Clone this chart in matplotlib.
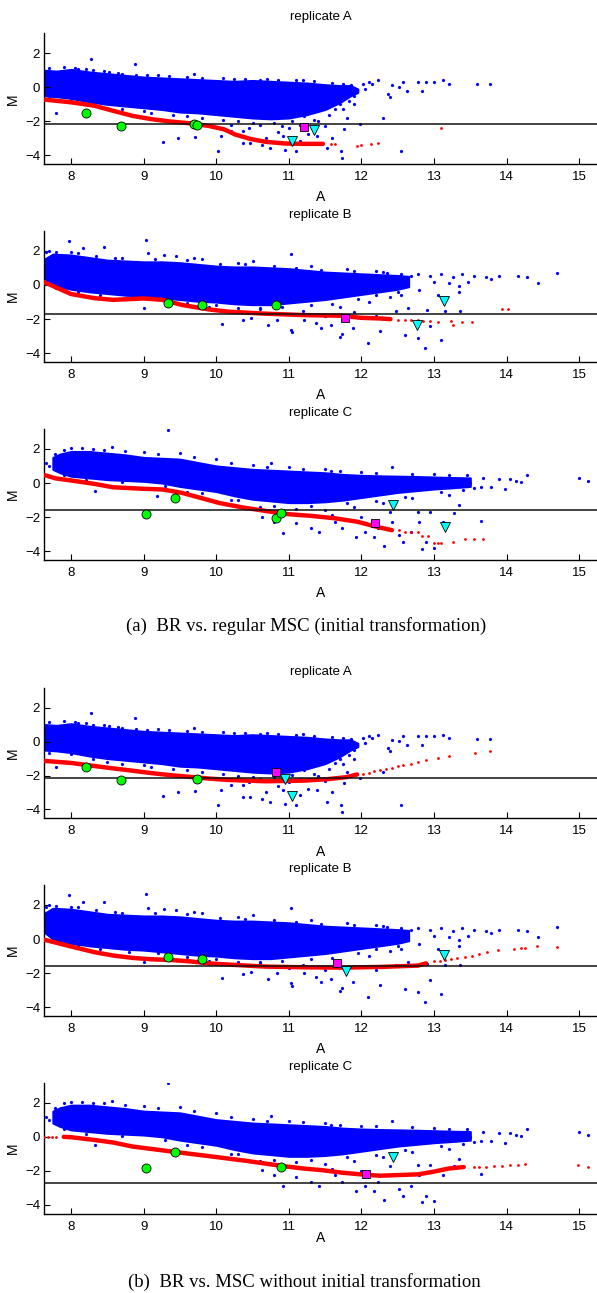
import matplotlib
matplotlib.use("Agg")
import matplotlib.pyplot as plt

plt.rcParams['font.family'] = ['Liberation Sans', 'DejaVu Sans']

# ---------------- data ----------------
# Blue MA cloud, shared by the (a) and (b) versions of each replicate.
# Dense core: envelope (A, upper M, lower M); sparse points listed individually.
coreA_A = [7.63, 7.8, 8.0, 8.25, 8.5, 8.75, 9.0, 9.25, 9.5, 9.75, 10.0, 10.25, 10.5, 10.75, 11.0, 11.25, 11.5, 11.7, 11.85, 11.95]
coreA_hi = [1.0, 0.95, 1.05, 0.9, 0.8, 0.7, 0.6, 0.55, 0.5, 0.45, 0.4, 0.35, 0.4, 0.35, 0.3, 0.25, 0.15, 0.1, 0.1, -0.1]
coreA_lo = [-0.5, -0.55, -0.65, -0.85, -1.0, -1.1, -1.2, -1.3, -1.45, -1.5, -1.6, -1.7, -1.8, -1.85, -1.8, -1.6, -1.3, -0.9, -0.5, -0.3]
ptsA_A = [8.27, 8.88, 8.53, 7.8, 9.27, 9.48, 9.70, 9.71, 10.02, 10.06, 10.21, 10.37, 10.47, 10.37,
          10.63, 10.68, 10.74, 10.92, 10.95, 11.1, 11.16, 11.05, 11.21, 11.31, 11.26, 11.39, 11.47,
          11.52, 11.6, 11.63, 11.72, 11.73, 11.76, 11.8, 11.83, 11.94, 11.98, 12.02, 12.15, 12.23,
          12.3, 12.36, 12.39, 12.42, 12.52, 12.55, 12.57, 12.63, 12.78, 12.84, 12.89, 13.0, 13.13,
          13.2, 13.59, 13.77, 8.1, 8.3, 8.7, 9.2, 9.6, 10.1, 10.4, 10.7, 11.2, 9.1, 9.6, 10.1, 10.5,
          10.9, 11.4, 11.7, 8.5, 11.85, 12.05, 12.1, 11.9,
          7.7, 7.9, 8.05, 8.2, 8.45, 8.65, 8.9, 9.05, 9.35, 9.8, 10.25, 10.6, 10.85, 11.1, 11.35, 11.6, 11.75,
          7.7, 8.0, 8.3, 8.7, 9.0, 9.4, 9.8, 10.3, 10.6, 10.8, 11.0, 11.15, 11.35, 11.55, 11.75, 11.9,
          10.2, 10.45, 10.85, 11.5]
ptsA_M = [1.66, 1.36, 0.91, -1.48, -3.21, -2.97, 0.81, -2.93, -3.76, -2.87, -2.57, -3.27, -3.27, -2.57,
          -3.36, -2.97, -3.56, -2.87, -3.66, -3.76, -3.17, -1.97, -1.68, -1.38, -2.77, -2.87, -4.56,
          -3.56, -2.97, -1.28, -3.76, -4.16, -2.47, -1.78, -0.78, -0.19, -2.17, 0.21, 0.21, 0.41,
          -1.78, -0.38, -0.58, 0.11, 0.01, -3.76, 0.31, -0.19, 0.31, -0.19, 0.31, 0.31, 0.41,
          0.21, 0.17, 0.17, 1.1, 1.0, 0.8, 0.75, 0.6, 0.55, 0.5, 0.5, 0.45, -1.5, -1.7, -1.9, -2.1,
          -2.3, -2.0, -1.0, -1.2, 0.15, -0.1, 0.3, -1.0,
          1.15, 1.2, 1.15, 1.1, 0.95, 0.85, 0.75, 0.7, 0.65, 0.55, 0.5, 0.45, 0.45, 0.4, 0.35, 0.25, 0.2,
          -0.65, -0.75, -1.0, -1.3, -1.4, -1.6, -1.8, -2.0, -2.2, -2.1, -2.4, -2.2, -1.9, -1.6, -1.3, -0.5,
          -2.2, -2.4, -2.6, -2.3]

coreB_A = [7.63, 7.75, 8.0, 8.25, 8.5, 8.75, 9.0, 9.25, 9.5, 9.75, 10.0, 10.25, 10.5, 10.75, 11.0, 11.25, 11.5, 11.75, 12.0, 12.25, 12.5, 12.65]
coreB_hi = [1.5, 1.8, 1.75, 1.6, 1.45, 1.4, 1.35, 1.35, 1.3, 1.2, 1.1, 1.05, 1.05, 1.0, 0.95, 0.85, 0.75, 0.7, 0.65, 0.6, 0.55, 0.5]
coreB_lo = [0.4, 0.0, -0.25, -0.4, -0.5, -0.6, -0.65, -0.75, -0.85, -0.95, -1.0, -1.1, -1.15, -1.15, -1.05, -0.95, -0.85, -0.7, -0.55, -0.4, -0.25, -0.1]
ptsB_A = [7.97, 8.16, 8.45, 9.03, 9.06, 9.28, 9.45, 9.7, 11.03, 10.5, 9.01, 10.08, 10.37, 10.48,
          10.71, 10.84, 11.03, 11.05, 11.21, 11.37, 11.45, 11.58, 11.71, 11.73, 11.89, 12.09, 12.26,
          12.47, 12.6, 12.64, 12.78, 12.88, 12.91, 12.94, 13.1, 13.15, 13.36, 13.34, 13.35, 12.68,
          12.78, 12.94, 13.1, 13.26, 13.39, 13.47, 13.55, 13.71, 13.78, 13.89, 14.15, 14.28, 14.43,
          14.69, 7.7, 8.0, 8.6, 9.8, 10.3, 11.3, 11.8, 12.2, 9.3, 9.9, 10.6, 11.2, 11.7, 12.1, 12.4,
          12.3, 12.55, 12.8, 13.0, 13.2, 13.05,
          7.65, 7.8, 8.1, 8.35, 8.7, 9.15, 9.6, 10.05, 10.4, 10.8, 11.1, 11.45, 11.9, 12.35, 12.55,
          7.8, 8.1, 8.4, 8.8, 9.2, 9.6, 10.0, 10.3, 10.6, 10.9, 11.3, 11.6, 11.95, 12.2, 12.5,
          11.0, 11.5, 11.9, 12.2]
ptsB_M = [2.57, 2.18, 2.2, 2.63, 1.84, 1.74, 1.7, 1.6, 1.8, 1.4, -1.33, -2.26, -2.04, -1.92,
          -2.36, -2.02, -2.61, -2.77, -2.02, -2.22, -2.51, -2.32, -3.07, -2.87, -2.51, -3.41, -2.71,
          -1.52, -2.91, -1.33, -3.11, -3.7, -1.49, -2.42, -3.21, -1.52, -1.52, -0.44, -0.04, 0.55,
          0.65, 0.55, 0.65, 0.46, 0.65, 0.16, 0.55, 0.46, 0.36, 0.5, 0.55, 0.46, 0.1,
          0.69, 2.0, 1.9, 1.6, 1.5, 1.3, 1.1, 0.95, 0.8, -1.0, -1.3, -1.4, -1.5, -1.3, -1.0, -0.7,
          0.75, -0.6, -0.3, 0.2, 0.1, -0.6,
          1.9, 1.95, 1.85, 1.7, 1.55, 1.5, 1.45, 1.25, 1.2, 1.1, 1.0, 0.9, 0.8, 0.7, 0.65,
          -0.2, -0.4, -0.6, -0.75, -0.85, -1.05, -1.2, -1.35, -1.35, -1.3, -1.15, -1.1, -0.85, -0.6, -0.4,
          -1.7, -1.8, -1.6, -1.8]

coreC_A = [7.75, 7.85, 8.0, 8.25, 8.5, 8.75, 9.0, 9.25, 9.5, 9.75, 10.0, 10.25, 10.5, 10.75, 11.0, 11.25, 11.5, 11.75, 12.0, 12.25, 12.5, 12.75, 13.0, 13.25, 13.5]
coreC_hi = [1.5, 1.7, 1.85, 1.85, 1.75, 1.65, 1.5, 1.45, 1.4, 1.2, 1.0, 0.9, 0.8, 0.75, 0.7, 0.65, 0.6, 0.5, 0.45, 0.42, 0.4, 0.38, 0.35, 0.32, 0.3]
coreC_lo = [0.8, 0.6, 0.4, 0.3, 0.2, 0.15, 0.1, 0.0, -0.2, -0.35, -0.5, -0.75, -0.95, -1.05, -1.15, -1.15, -1.1, -1.0, -0.85, -0.7, -0.55, -0.45, -0.35, -0.28, -0.2]
ptsC_A = [9.33, 8.56, 7.66, 7.78, 7.7, 8.33, 9.19, 10.76, 10.92, 10.63, 10.79, 11.1, 11.31, 11.42,
          11.58, 11.63, 11.73, 11.92, 12.05, 12.18, 12.23, 12.31, 12.42, 12.42, 12.52, 12.57, 12.68,
          12.78, 12.8, 12.84, 12.89, 12.94, 13.0, 13.12, 13.28, 13.34, 13.65, 13.68, 13.78, 13.89,
          13.98, 14.05, 14.13, 14.2, 14.28, 13.65, 15.0, 15.12, 8.0, 8.3, 9.0, 9.5, 10.0, 10.5, 11.0,
          11.5, 12.0, 13.0, 13.45, 9.6, 10.2, 10.6, 11.1, 11.5, 11.9, 12.3, 12.7, 13.2, 13.55, 13.5,
          7.9, 8.15, 8.45, 8.75, 9.2, 9.7, 10.2, 10.7, 11.2, 11.7, 12.2, 12.7, 13.2,
          7.9, 8.2, 8.7, 9.3, 9.8, 10.3, 10.8, 11.3, 11.8, 12.2, 12.6, 13.1, 13.4,
          11.6, 12.0, 12.4]
ptsC_M = [3.13, 2.1, 1.17, 1.7, 1.0, -0.48, -0.74, 1.2, -2.91, -1.97, -2.27, -2.37, -2.67, -2.87,
          0.71, -2.27, -2.67, -3.17, -2.87, -3.17, -2.67, -3.7, -2.27, 0.91, -3.07, -3.46, -2.87,
          -1.68, -2.27, -3.86, -3.46, -1.68, -3.8, -2.27, -1.74, -1.28, -0.23, 0.27, -0.25, 0.21,
          -0.38, 0.21, 0.11, 0.05, 0.47, -2.21, 0.27, 0.11, 2.05, 2.0, 1.8, 1.75, 1.4, 1.05, 0.95,
          0.8, 0.65, 0.5, 0.45, -0.5, -1.0, -1.4, -1.5, -1.6, -1.4, -1.2, -0.9, -0.7, -0.3, 0.0,
          1.95, 2.05, 1.95, 1.85, 1.7, 1.5, 1.15, 0.95, 0.85, 0.7, 0.6, 0.55, 0.45,
          0.45, 0.15, 0.05, -0.2, -0.6, -1.0, -1.35, -1.35, -1.2, -1.05, -0.8, -0.55, -0.4,
          -1.9, -2.0, -1.7]

# Red normalisation curves: dense part and sparse tail, for the six panels
red_dense_A = [
    [7.63, 8.0, 8.32, 8.58, 8.85, 9.11, 9.37, 9.63, 9.9, 10.11, 10.26, 10.47, 10.68, 10.95, 11.2, 11.47],
    [7.63, 7.74, 8.0, 8.32, 8.58, 9.0, 9.26, 9.53, 9.9, 10.16, 10.68, 11.21, 11.73, 11.99, 12.26, 12.4],
    [7.63, 7.79, 8.0, 8.32, 8.58, 9.0, 9.26, 9.53, 9.79, 10.05, 10.37, 10.68, 10.99, 11.31, 11.63, 11.94, 12.21, 12.42],
    [7.63, 8.0, 8.32, 8.58, 8.85, 9.11, 9.37, 9.63, 9.9, 10.16, 10.68, 11.21, 11.52, 11.79, 11.94],
    [7.63, 8.0, 8.32, 8.58, 8.85, 9.11, 9.37, 9.63, 9.9, 10.16, 10.68, 11.21, 11.73, 12.26, 12.52, 12.78, 12.89],
    [7.9, 8.0, 8.32, 8.58, 8.85, 9.11, 9.37, 9.63, 9.9, 10.16, 10.42, 10.68, 10.95, 11.21, 11.47, 11.73, 11.99, 12.26, 12.52, 12.78, 13.0, 13.2, 13.41],
]
red_dense_M = [
    [-0.72, -0.88, -1.08, -1.38, -1.68, -1.87, -2.01, -2.11, -2.27, -2.47, -2.77, -3.03, -3.2, -3.3, -3.32, -3.32],
    [0.16, -0.04, -0.53, -0.77, -0.87, -0.79, -0.87, -1.17, -1.43, -1.56, -1.68, -1.76, -1.80, -1.92, -1.96, -2.0],
    [0.47, 0.27, 0.15, -0.05, -0.25, -0.34, -0.38, -0.58, -0.88, -1.18, -1.44, -1.64, -1.83, -1.93, -2.07, -2.27, -2.57, -2.77],
    [-1.14, -1.26, -1.44, -1.58, -1.72, -1.86, -1.98, -2.08, -2.18, -2.26, -2.34, -2.3, -2.22, -2.1, -1.94],
    [-0.04, -0.44, -0.77, -0.97, -1.11, -1.19, -1.23, -1.31, -1.43, -1.5, -1.62, -1.66, -1.68, -1.64, -1.6, -1.56, -1.43],
    [-0.01, -0.03, -0.19, -0.34, -0.58, -0.72, -0.86, -1.0, -1.14, -1.28, -1.42, -1.58, -1.74, -1.87, -1.97, -2.11, -2.21, -2.29, -2.25, -2.21, -2.05, -1.87, -1.78],
]
red_sparse_A = [
    [11.58, 11.63, 11.94, 11.99, 12.13, 12.23, 13.1],
    [12.5, 12.6, 12.68, 12.78, 12.85, 12.94, 13.05, 13.23, 13.26, 13.39, 13.52, 13.94, 14.02],
    [12.52, 12.6, 12.68, 12.78, 12.84, 12.92, 13.0, 13.05, 13.1, 13.26, 13.42, 13.55, 13.68],
    [12.02, 12.1, 12.18, 12.26, 12.34, 12.42, 12.5, 12.57, 12.68, 12.78, 12.89, 13.05, 13.2, 13.57, 13.77],
    [13.0, 13.08, 13.15, 13.23, 13.31, 13.42, 13.52, 13.62, 13.73, 13.88, 14.1, 14.2, 14.25, 14.42, 14.69],
    [7.63, 7.68, 7.74, 7.8, 13.55, 13.62, 13.72, 13.83, 13.93, 14.04, 14.15, 14.25, 14.99, 15.12],
]
red_sparse_M = [
    [-3.35, -3.33, -3.42, -3.4, -3.32, -3.28, -2.41],
    [-2.04, -2.02, -2.04, -2.06, -2.08, -2.12, -2.16, -2.08, -2.36, -2.16, -2.16, -1.39, -1.39],
    [-2.77, -2.85, -2.87, -2.9, -3.1, -3.1, -3.52, -3.5, -3.5, -3.46, -3.27, -3.27, -3.27],
    [-1.9, -1.84, -1.76, -1.7, -1.62, -1.54, -1.46, -1.38, -1.3, -1.2, -1.1, -0.98, -0.84, -0.66, -0.54],
    [-1.31, -1.27, -1.23, -1.17, -1.11, -1.05, -0.97, -0.88, -0.77, -0.67, -0.57, -0.54, -0.51, -0.44, -0.48],
    [0.01, 0.01, 0.0, 0.0, -1.78, -1.78, -1.76, -1.72, -1.7, -1.66, -1.64, -1.62, -1.66, -1.78],
]

# Horizontal threshold lines
hline_M = [-2.17, -1.72, -1.6, -2.14, -1.6, -2.71]

# Highlighted genes: green circles, magenta squares, cyan triangles
green_A = [[8.20, 8.69, 9.69, 9.73], [9.33, 9.80, 10.82], [9.03, 9.43, 10.82, 10.89],
           [8.20, 8.69, 9.73], [9.33, 9.80], [9.03, 9.43, 10.89]]
green_M = [[-1.48, -2.29, -2.17, -2.21], [-1.07, -1.19, -1.15], [-1.83, -0.9, -2.07, -1.75],
           [-1.48, -2.28, -2.2], [-1.05, -1.17], [-1.81, -0.88, -1.75]]
mag_A = [[11.21], [11.78], [12.19], [10.83], [11.66], [12.07]]
mag_M = [[-2.31], [-1.94], [-2.33], [-1.8], [-1.39], [-2.21]]
cyan_A = [[11.04, 11.35], [13.14, 12.76], [12.44, 13.15], [10.95, 11.04], [13.14, 11.79], [12.44]]
cyan_M = [[-3.17, -2.53], [-0.93, -2.36], [-1.28, -2.61], [-2.2, -3.18], [-0.91, -1.88], [-1.22]]

titles = ["replicate A", "replicate B", "replicate C", "replicate A", "replicate B", "replicate C"]
xticks = [8, 9, 10, 11, 12, 13, 14, 15]
yticks = [-4, -2, 0, 2]
captions = ["(a)  BR vs. regular MSC (initial transformation)",
            "(b)  BR vs. MSC without initial transformation"]

clouds = [(coreA_A, coreA_hi, coreA_lo, ptsA_A, ptsA_M),
          (coreB_A, coreB_hi, coreB_lo, ptsB_A, ptsB_M),
          (coreC_A, coreC_hi, coreC_lo, ptsC_A, ptsC_M)]

# ---------------- layout ----------------
W, H = 597, 1293
fig = plt.figure(figsize=(W / 100, H / 100), dpi=100)
ax_left = 44.3
tops = [33.3, 230.7, 429.0, 687.7, 885.0, 1082.7]
bots = [164.3, 362.3, 560.0, 818.3, 1016.0, 1213.7]
xlab_y = [197, 395, 593, 851.5, 1049.3, 1238]

for i in range(6):
    t, b = tops[i], bots[i]
    ax = fig.add_axes([ax_left / W, 1 - b / H, (W - ax_left) / W, (b - t) / H])
    cA, cHi, cLo, pA, pM = clouds[i % 3]
    ax.fill_between(cA, cLo, cHi, color='#0000FF', linewidth=1.5, edgecolor='#0000FF', zorder=1)
    ax.plot(pA, pM, linestyle='none', marker='o', ms=2.3, mfc='#0000FF', mec='none', zorder=2)
    ax.plot(red_dense_A[i], red_dense_M[i], color='#FF0000', lw=3.2, solid_capstyle='round', zorder=3)
    ax.plot(red_sparse_A[i], red_sparse_M[i], linestyle='none', marker='o', ms=2.0,
            mfc='#FF0000', mec='none', zorder=3)
    ax.axhline(hline_M[i], color='#111111', lw=1.1, zorder=4)
    ax.plot(green_A[i], green_M[i], linestyle='none', marker='o', ms=6.5,
            mfc='#00FF00', mec='#000000', mew=0.6, zorder=5)
    ax.plot(mag_A[i], mag_M[i], linestyle='none', marker='s', ms=5.2,
            mfc='#FF00FF', mec='#000000', mew=0.6, zorder=5)
    ax.plot(cyan_A[i], cyan_M[i], linestyle='none', marker='v', ms=6.5,
            mfc='#00FFFF', mec='#000000', mew=0.6, zorder=5)

    ax.set_xlim(7.632, 15.245)
    ax.set_ylim(-4.52, 3.17)
    ax.set_xticks(xticks)
    ax.set_yticks(yticks)
    ax.set_xticklabels([str(v) for v in xticks])
    ax.set_yticklabels(['\u22124', '\u22122', '0', '2'])
    ax.tick_params(direction='in', length=4.5, width=0.8, labelsize=9.5, colors='#000000')
    ax.tick_params(axis='x', pad=5)
    ax.tick_params(axis='y', pad=3)
    for s in ['top', 'right']:
        ax.spines[s].set_visible(False)
    for s in ['left', 'bottom']:
        ax.spines[s].set_linewidth(1.0)
    ax.set_facecolor('white')

    xc = (ax_left + W) / 2
    fig.text(xc / W, 1 - (t - 16) / H, titles[i], ha='center', va='center', fontsize=9.5)
    fig.text(xc / W, 1 - xlab_y[i] / H, "A", ha='center', va='center', fontsize=10)
    fig.text(13.3 / W, 1 - ((t + b) / 2) / H, "M", ha='center', va='center',
             rotation=90, fontsize=10)

fig.text(306 / W, 1 - 626.5 / H, captions[0], ha='center', va='center', fontsize=13.5,
         family=['Liberation Serif', 'DejaVu Serif'])
fig.text(304 / W, 1 - 1282 / H, captions[1], ha='center', va='center', fontsize=13.5,
         family=['Liberation Serif', 'DejaVu Serif'])

fig.savefig("out.png", dpi=100, facecolor='white')
